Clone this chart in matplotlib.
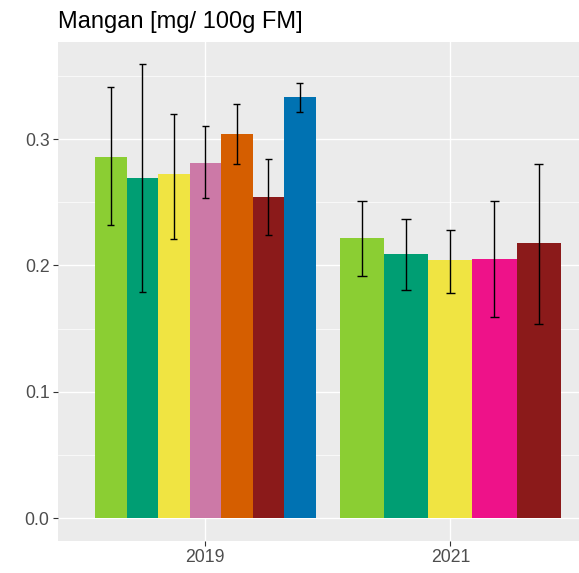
import matplotlib
matplotlib.use("Agg")
import matplotlib.pyplot as plt
from matplotlib.ticker import MultipleLocator

plt.rcParams['font.family'] = ['Liberation Sans', 'DejaVu Sans']

# Mangan content per year, mean with lower/upper error limits
years = ["2019", "2021"]

means_2019 = [0.286, 0.269, 0.272, 0.281, 0.304, 0.254, 0.333]
lower_2019 = [0.232, 0.179, 0.221, 0.253, 0.280, 0.224, 0.321]
upper_2019 = [0.341, 0.359, 0.320, 0.310, 0.328, 0.284, 0.344]
colors_2019 = ["#8BCE33", "#009E73", "#F0E442", "#CC79A7", "#D55E00", "#8B1A1A", "#0072B2"]

means_2021 = [0.222, 0.209, 0.204, 0.205, 0.218]
lower_2021 = [0.192, 0.181, 0.178, 0.159, 0.154]
upper_2021 = [0.251, 0.237, 0.228, 0.251, 0.280]
colors_2021 = ["#8BCE33", "#009E73", "#F0E442", "#EE1289", "#8B1A1A"]

fig = plt.figure(figsize=(5.79, 5.73), dpi=100)
ax = fig.add_axes([0.1007, 0.0564, 0.8993, 0.8703])
ax.set_facecolor("#EBEBEB")
for s in ax.spines.values():
    s.set_visible(False)

groups = [
    (means_2019, lower_2019, upper_2019, colors_2019),
    (means_2021, lower_2021, upper_2021, colors_2021),
]

# dodged bars, total width 0.9 per year
for gi, (means, lo, hi, cols) in enumerate(groups):
    center = gi + 1
    n = len(means)
    w = 0.9 / n
    xs = [center - 0.45 + w * (i + 0.5) for i in range(n)]
    ax.bar(xs, means, width=w, color=cols, linewidth=0, zorder=3)
    cap = 0.11 * w
    ax.vlines(xs, lo, hi, color="black", linewidth=1.0, zorder=4)
    ax.hlines(lo, [x - cap for x in xs], [x + cap for x in xs], color="black", linewidth=1.0, zorder=4)
    ax.hlines(hi, [x - cap for x in xs], [x + cap for x in xs], color="black", linewidth=1.0, zorder=4)

ax.set_xlim(0.4, 2.525)
ax.set_ylim(-0.0176, 0.3767)
ax.set_xticks([1, 2])
ax.set_xticklabels(years)
ax.yaxis.set_major_locator(MultipleLocator(0.1))
ax.yaxis.set_minor_locator(MultipleLocator(0.05))
ax.set_yticks([0.0, 0.1, 0.2, 0.3])
ax.set_yticklabels(["0.0", "0.1", "0.2", "0.3"])

ax.grid(which="major", color="white", linewidth=1.0, zorder=0)
ax.grid(which="minor", axis="y", color="white", linewidth=0.5, zorder=0)
ax.set_axisbelow(True)
ax.tick_params(axis="both", which="major", length=3.3, width=0.8, color="#333333",
               labelcolor="#4D4D4D", labelsize=12.7, pad=3)
ax.tick_params(axis="y", which="minor", length=0)

fig.text(0.1007, 0.9506, "Mangan [mg/ 100g FM]", fontsize=17, color="black",
         ha="left", va="baseline")

fig.savefig("out.png", dpi=100)
